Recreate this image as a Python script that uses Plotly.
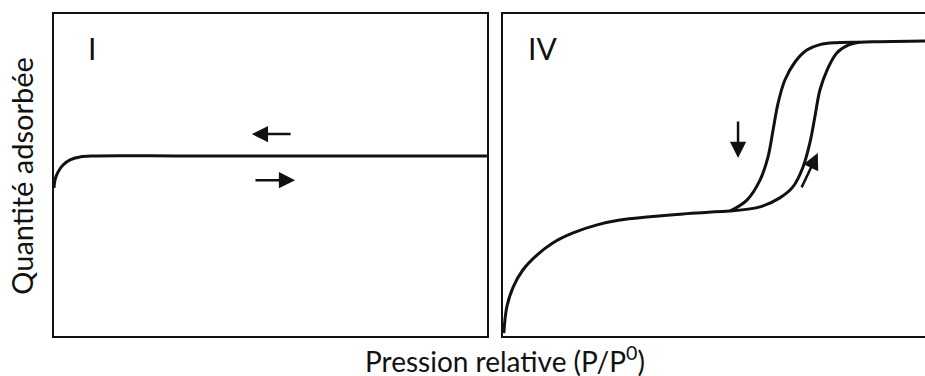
import plotly.graph_objects as go
from plotly.subplots import make_subplots

# ── DATA (relative pressure 0-1, adsorbed quantity 0-1) ─────────
type1_x = [0.0, 0.0023, 0.0092, 0.0208, 0.037, 0.06, 0.09, 0.3, 0.6, 1.0]
type1_y = [0.46, 0.485, 0.509, 0.531, 0.547, 0.556, 0.559, 0.559, 0.559, 0.559]

# type IV : common low-pressure branch
iv_low_x = [0.002, 0.009, 0.024, 0.047, 0.081, 0.118, 0.166, 0.223, 0.277, 0.348, 0.427, 0.538]
iv_low_y = [0.009, 0.09, 0.152, 0.205, 0.252, 0.289, 0.32, 0.345, 0.36, 0.37, 0.379, 0.388]
# desorption branch (upper / left)
iv_des_x = [0.538, 0.578, 0.609, 0.628, 0.64, 0.652, 0.668, 0.692, 0.72, 0.751, 0.791, 0.846]
iv_des_y = [0.388, 0.422, 0.484, 0.556, 0.64, 0.724, 0.795, 0.851, 0.888, 0.905, 0.911, 0.912]
# adsorption branch (lower / right) up to the plateau
iv_ads_x = [0.538, 0.609, 0.656, 0.687, 0.711, 0.727, 0.739, 0.751, 0.768, 0.791, 0.818, 0.846, 0.893, 1.0]
iv_ads_y = [0.388, 0.401, 0.429, 0.463, 0.525, 0.599, 0.68, 0.764, 0.826, 0.879, 0.903, 0.912, 0.914, 0.916]

# arrows: (x_tail, y_tail, x_head, y_head)
arrows_I = [(0.55, 0.627, 0.457, 0.627), (0.462, 0.484, 0.557, 0.484)]
arrows_IV = [(0.557, 0.671, 0.557, 0.553), (0.706, 0.457, 0.746, 0.568)]

panel_labels = ["I", "IV"]
x_title = "Pression relative (P/P<sup>0</sup>)"
y_title = "Quantité adsorbée"

FONT = "Lato"
INK = "#111111"

fig = make_subplots(rows=1, cols=2, horizontal_spacing=0.02)

line_style = dict(color=INK, width=3, shape="spline", smoothing=1)
fig.add_trace(go.Scatter(x=type1_x, y=type1_y, mode="lines", line=line_style),
              row=1, col=1)
for xs, ys in [(iv_low_x, iv_low_y), (iv_des_x, iv_des_y), (iv_ads_x, iv_ads_y)]:
    fig.add_trace(go.Scatter(x=xs, y=ys, mode="lines", line=line_style),
                  row=1, col=2)

# panel frames
fig.update_xaxes(range=[0, 1], showgrid=False, zeroline=False, showticklabels=False,
                 ticks="", showline=True, linecolor=INK, linewidth=2, mirror=True)
fig.update_yaxes(range=[0, 1], showgrid=False, zeroline=False, showticklabels=False,
                 ticks="", showline=True, linecolor=INK, linewidth=2)
fig.update_yaxes(mirror=True, row=1, col=1)
fig.update_xaxes(domain=[0, 0.497], row=1, col=1)
fig.update_xaxes(domain=[0.5155, 1.0], row=1, col=2)

# arrows
for axis, arrows in [("", arrows_I), ("2", arrows_IV)]:
    for x0, y0, x1, y1 in arrows:
        fig.add_annotation(x=x1, y=y1, ax=x0, ay=y0, xref="x" + axis, yref="y" + axis,
                           axref="x" + axis, ayref="y" + axis, text="", showarrow=True,
                           arrowhead=2, arrowsize=1.3, arrowwidth=2.5, arrowcolor=INK)

# panel labels
for axis, label, lx in [("", panel_labels[0], 0.075), ("2", panel_labels[1], 0.055)]:
    fig.add_annotation(x=lx, y=0.893, xref="x" + axis, yref="y" + axis, text=label,
                       showarrow=False, xanchor="left", yanchor="middle",
                       font=dict(family=FONT, size=30, color=INK))

# axis titles
fig.add_annotation(x=-0.037, y=0.497, xref="paper", yref="paper", text=y_title,
                   textangle=-90, showarrow=False, xanchor="center", yanchor="middle",
                   font=dict(family=FONT, size=29, color=INK))
fig.add_annotation(x=0.518, y=-0.073, xref="paper", yref="paper", text=x_title,
                   showarrow=False, xanchor="center", yanchor="middle",
                   font=dict(family=FONT, size=28, color=INK))

fig.update_layout(width=925, height=376, showlegend=False,
                  margin=dict(l=54, r=0, t=14, b=40),
                  paper_bgcolor="white", plot_bgcolor="white")
fig.write_html("out.html", config={"displayModeBar": False},
               post_script="document.body.style.margin='0';")
